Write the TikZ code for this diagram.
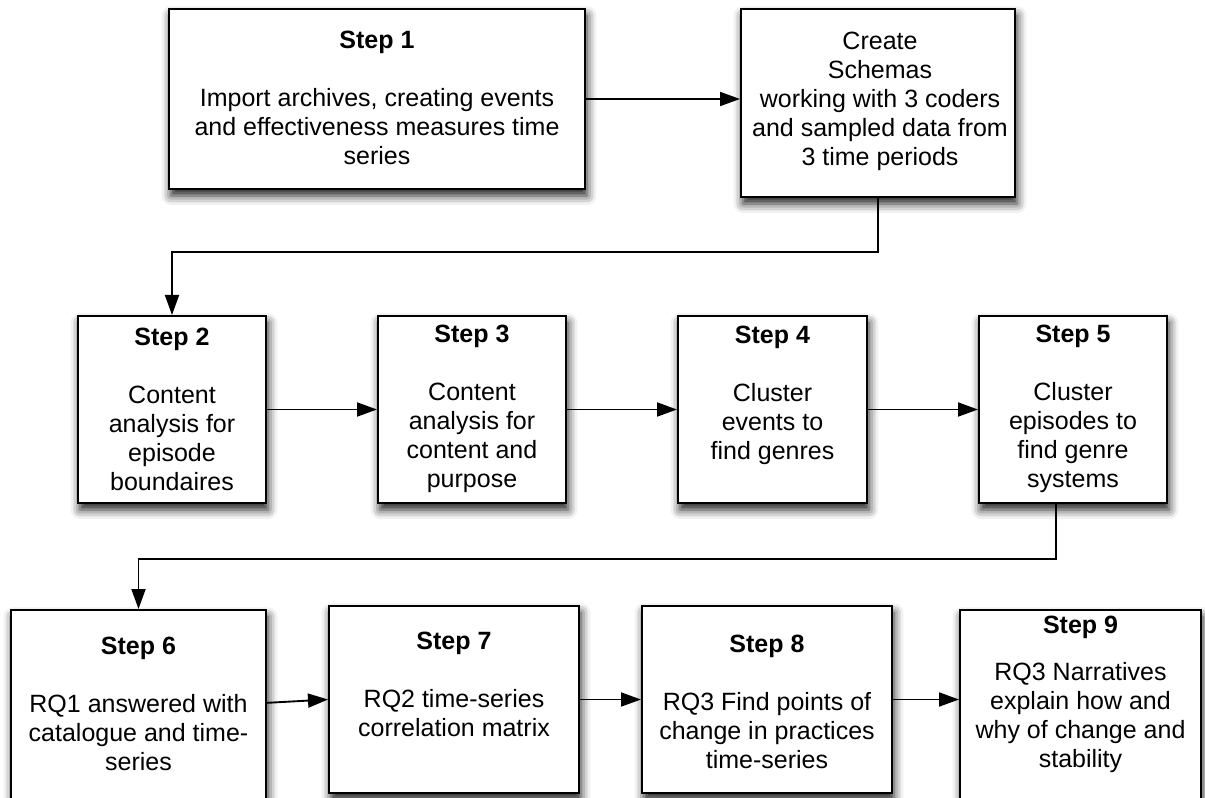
\documentclass[tikz,border=0pt]{standalone}
\usepackage{fontspec}
\setmainfont{Liberation Sans}
\usetikzlibrary{arrows.meta,shadows.blur}
\begin{document}
\begin{tikzpicture}[x=0.75pt,y=-0.75pt,
  box/.style={draw=black, line width=1.5pt, fill=white, inner sep=0pt,
    blur shadow={shadow xshift=1.5pt, shadow yshift=-5pt, shadow blur radius=7pt, shadow opacity=90}},
  txt/.style={align=center, inner sep=0pt, font=\fontsize{18.75}{21.75}\selectfont},
  conn/.style={line width=1.4pt, -{Triangle[length=15pt,width=10.5pt]}}]
\useasboundingbox (0,0) rectangle (1205,798);
\clip (0,0) rectangle (1205,798);
% row 1
\node[box, minimum width={416*0.75pt}, minimum height={180*0.75pt}] (s1) at (377,99) {};
\node[box, minimum width={274*0.75pt}, minimum height={188*0.75pt}] (sc) at (878,103) {};
% row 2
\node[box, minimum width={188*0.75pt}, minimum height={187*0.75pt}] (s2) at (172,409.5) {};
\node[box, minimum width={188*0.75pt}, minimum height={187*0.75pt}] (s3) at (472,409.5) {};
\node[box, minimum width={189*0.75pt}, minimum height={187*0.75pt}] (s4) at (772.5,409.5) {};
\node[box, minimum width={188*0.75pt}, minimum height={187*0.75pt}] (s5) at (1073,409.5) {};
% row 3
\node[box, minimum width={255*0.75pt}, minimum height={191*0.75pt}] (s6) at (138.5,705.5) {};
\node[box, minimum width={250*0.75pt}, minimum height={187*0.75pt}] (s7) at (454,699.5) {};
\node[box, minimum width={250*0.75pt}, minimum height={187*0.75pt}] (s8) at (767,699.5) {};
\node[box, minimum width={241*0.75pt}, minimum height={191*0.75pt}] (s9) at (1080.5,705.5) {};
% texts
\node[txt] (t1) at (377,98) {\textbf{Step 1}\\[21.75pt]Import archives, creating events\\and effectiveness measures time\\series};
\node[txt] (tc) at (880,101) {Create\\Schemas\\working with 3 coders\\and sampled data from\\3 time periods};
\node[txt] (t2) at (172,409) {\textbf{Step 2}\\[21.75pt]Content\\analysis for\\episode\\boundaires};
\node[txt] (t3) at (472,409) {\textbf{Step 3}\\[21.75pt]Content\\analysis for\\content and\\purpose};
\node[txt] (t4) at (772.5,395) {\textbf{Step 4}\\[21.75pt]Cluster\\events to\\find genres};
\node[txt] (t5) at (1073,409) {\textbf{Step 5}\\[21.75pt]Cluster\\episodes to\\find genre\\systems};
\node[txt] (t6) at (138.5,703.5) {\textbf{Step 6}\\[21.75pt]RQ1 answered with\\catalogue and time-\\series};
\node[txt] (t7) at (454,684.5) {\textbf{Step 7}\\[21.75pt]RQ2 time-series\\correlation matrix};
\node[txt] (t8) at (767,701.5) {\textbf{Step 8}\\[21.75pt]RQ3 Find points of\\change in practices\\time-series};
\node[txt] (t9) at (1080.5,694.5) {\textbf{Step 9}\\[13.5pt]RQ3 Narratives\\explain how and\\why of change and\\stability};
% connectors
\draw[conn] (s1.east) -- (s1.east -| sc.west);
\draw[conn] (sc.south) -- ++(0,54) -| (s2.north);
\draw[conn] (s2.east) -- (s3.west);
\draw[conn] (s3.east) -- (s4.west);
\draw[conn] (s4.east) -- (s5.west);
\draw[conn] ([xshift=-12.75pt]s5.south) -- ++(0,55) -| (s6.north);
\draw[conn] ([yshift=2pt]s6.east) -- (s7.west);
\draw[conn] (s7.east) -- (s8.west);
\draw[conn] (s8.east) -- (s8.east -| s9.west);
\end{tikzpicture}
\end{document}
